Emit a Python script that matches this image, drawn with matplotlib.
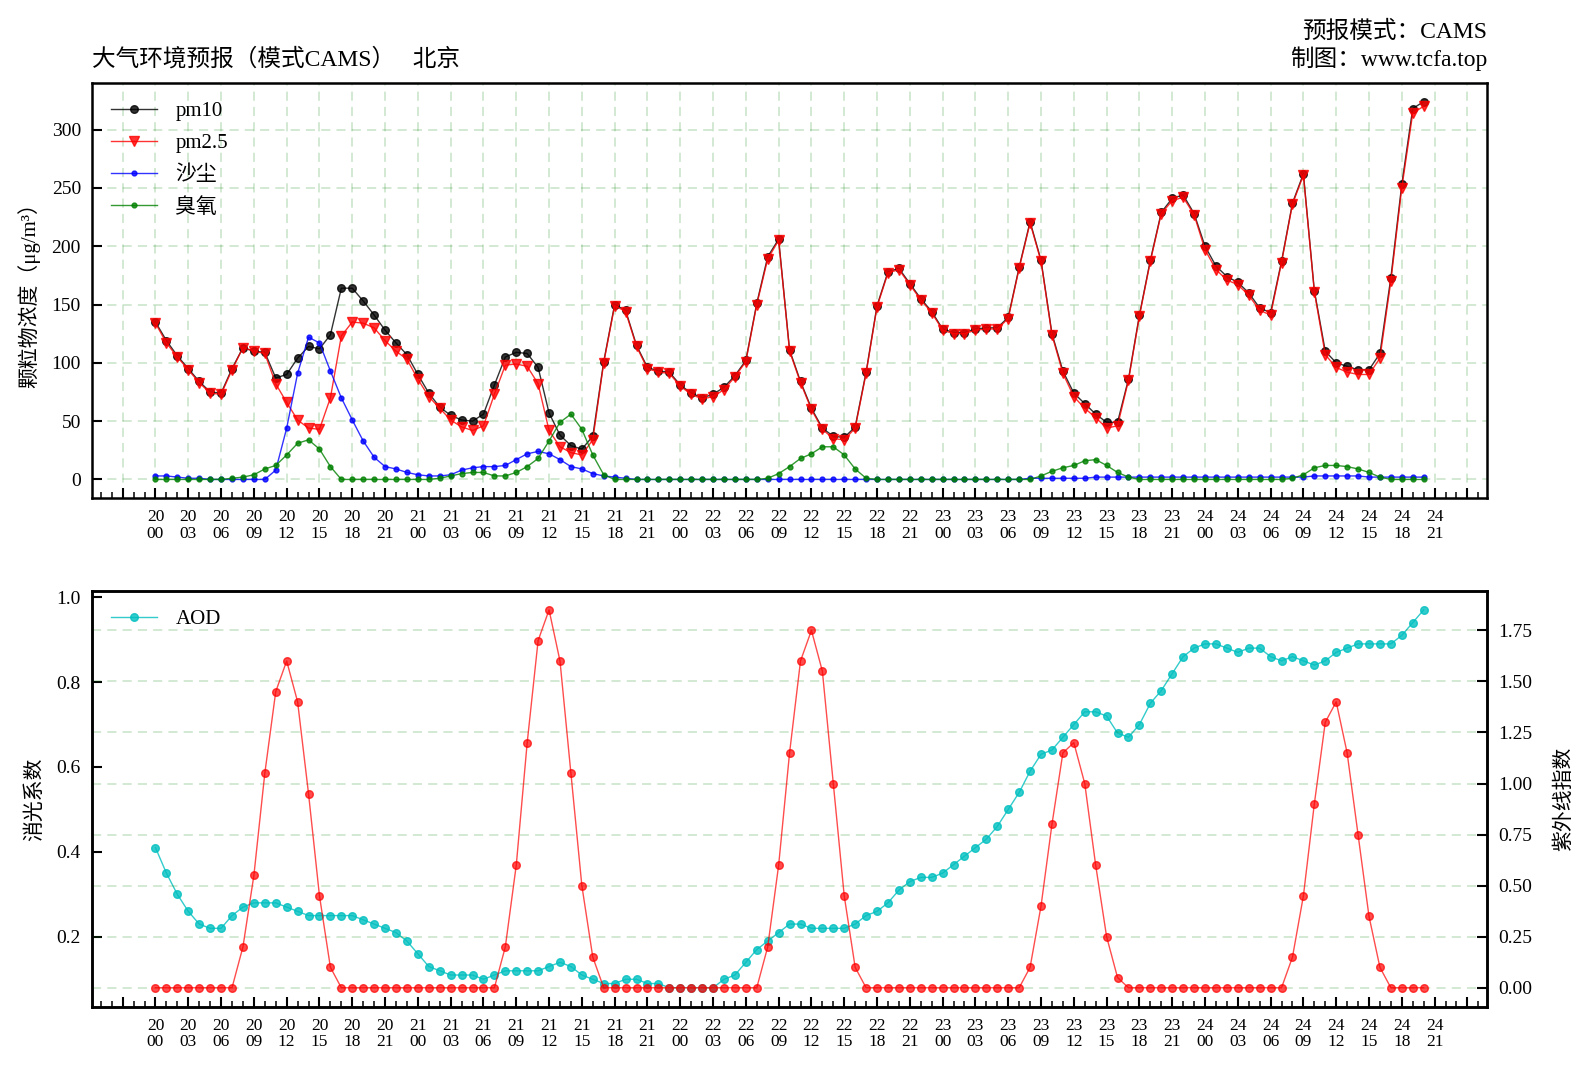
import numpy as np
import matplotlib
matplotlib.use('Agg')
import matplotlib.pyplot as plt
from matplotlib.ticker import MultipleLocator

plt.rcParams['font.family'] = ['Liberation Serif', 'Noto Sans CJK SC']

# hourly forecast, 20 00 -> 24 20
pm10 = [135, 119, 106, 95, 84, 75, 74, 95, 113, 110, 109, 87, 90, 104, 114, 112,
        124, 164, 164, 153, 141, 128, 117, 107, 90, 74, 62, 55, 51, 50, 56, 81,
        105, 109, 108, 96, 57, 38, 29, 26, 37, 101, 150, 145, 115, 96, 93, 92,
        81, 74, 70, 73, 79, 89, 102, 151, 191, 206, 111, 84, 61, 44, 37, 36,
        45, 92, 149, 178, 181, 168, 155, 144, 129, 126, 126, 129, 130, 130, 139, 182,
        221, 188, 125, 93, 74, 65, 56, 49, 49, 86, 141, 188, 229, 241, 244, 228,
        200, 183, 174, 169, 160, 147, 143, 187, 237, 262, 162, 110, 100, 97, 94, 94,
        108, 173, 253, 318, 324]
pm25 = [134, 117, 105, 94, 83, 74, 73, 94, 113, 110, 108, 82, 66, 51, 44, 43,
        70, 123, 135, 134, 130, 119, 110, 103, 86, 71, 61, 51, 45, 42, 46, 73,
        98, 99, 97, 82, 42, 28, 23, 21, 34, 100, 149, 144, 114, 95, 92, 91,
        80, 73, 69, 71, 77, 88, 101, 150, 189, 205, 110, 83, 60, 43, 35, 34,
        44, 91, 148, 177, 180, 167, 154, 143, 128, 125, 125, 128, 129, 129, 138, 181,
        220, 187, 124, 91, 71, 61, 53, 44, 46, 85, 140, 187, 228, 239, 242, 227,
        197, 180, 171, 167, 158, 145, 141, 186, 236, 261, 161, 107, 96, 92, 90, 90,
        104, 170, 250, 314, 320]
dust = [3, 3, 2, 1, 1, 0, 0, 0, 0, 0, 0, 8, 44, 91, 122, 117,
        93, 70, 51, 33, 19, 11, 9, 6, 4, 3, 3, 4, 8, 10, 11, 11,
        12, 17, 22, 24, 22, 17, 11, 9, 5, 3, 2, 1, 0, 0, 0, 0,
        0, 0, 0, 0, 0, 0, 0, 0, 0, 0, 0, 0, 0, 0, 0, 0,
        0, 0, 0, 0, 0, 0, 0, 0, 0, 0, 0, 0, 0, 0, 0, 0,
        1, 1, 1, 1, 1, 1, 2, 2, 2, 2, 2, 2, 2, 2, 2, 2,
        2, 2, 2, 2, 2, 2, 2, 2, 2, 2, 3, 3, 3, 3, 3, 2,
        2, 2, 2, 2, 2]
ozone = [0, 0, 0, 0, 0, 0, 0, 1, 2, 4, 9, 12, 21, 31, 34, 26,
         11, 0, 0, 0, 0, 0, 0, 0, 0, 0, 1, 3, 5, 6, 6, 3,
         3, 6, 11, 18, 33, 49, 56, 43, 21, 4, 0, 0, 0, 0, 0, 0,
         0, 0, 0, 0, 0, 0, 0, 0, 1, 5, 11, 18, 22, 28, 28, 21,
         9, 1, 0, 0, 0, 0, 0, 0, 0, 0, 0, 0, 0, 0, 0, 0,
         0, 3, 7, 10, 12, 16, 17, 12, 6, 2, 0, 0, 0, 0, 0, 0,
         0, 0, 0, 0, 0, 0, 0, 0, 1, 4, 10, 12, 12, 11, 9, 6,
         2, 0, 0, 0, 0]
aod = [0.41, 0.35, 0.30, 0.26, 0.23, 0.22, 0.22, 0.25, 0.27, 0.28, 0.28, 0.28, 0.27, 0.26, 0.25, 0.25,
       0.25, 0.25, 0.25, 0.24, 0.23, 0.22, 0.21, 0.19, 0.16, 0.13, 0.12, 0.11, 0.11, 0.11, 0.10, 0.11,
       0.12, 0.12, 0.12, 0.12, 0.13, 0.14, 0.13, 0.11, 0.10, 0.09, 0.09, 0.10, 0.10, 0.09, 0.09, 0.08,
       0.08, 0.08, 0.08, 0.08, 0.10, 0.11, 0.14, 0.17, 0.19, 0.21, 0.23, 0.23, 0.22, 0.22, 0.22, 0.22,
       0.23, 0.25, 0.26, 0.28, 0.31, 0.33, 0.34, 0.34, 0.35, 0.37, 0.39, 0.41, 0.43, 0.46, 0.50, 0.54,
       0.59, 0.63, 0.64, 0.67, 0.70, 0.73, 0.73, 0.72, 0.68, 0.67, 0.70, 0.75, 0.78, 0.82, 0.86, 0.88,
       0.89, 0.89, 0.88, 0.87, 0.88, 0.88, 0.86, 0.85, 0.86, 0.85, 0.84, 0.85, 0.87, 0.88, 0.89, 0.89,
       0.89, 0.89, 0.91, 0.94, 0.97]
uv = [0, 0, 0, 0, 0, 0, 0, 0, 0.20, 0.55, 1.05, 1.45, 1.60, 1.40, 0.95, 0.45,
      0.10, 0, 0, 0, 0, 0, 0, 0, 0, 0, 0, 0, 0, 0, 0, 0,
      0.20, 0.60, 1.20, 1.70, 1.85, 1.60, 1.05, 0.50, 0.15, 0, 0, 0, 0, 0, 0, 0,
      0, 0, 0, 0, 0, 0, 0, 0, 0.20, 0.60, 1.15, 1.60, 1.75, 1.55, 1.00, 0.45,
      0.10, 0, 0, 0, 0, 0, 0, 0, 0, 0, 0, 0, 0, 0, 0, 0,
      0.10, 0.40, 0.80, 1.15, 1.20, 1.00, 0.60, 0.25, 0.05, 0, 0, 0, 0, 0, 0, 0,
      0, 0, 0, 0, 0, 0, 0, 0, 0.15, 0.45, 0.90, 1.30, 1.40, 1.15, 0.75, 0.35,
      0.10, 0, 0, 0, 0]

days = ['20', '21', '22', '23', '24']
hours = ['00', '03', '06', '09', '12', '15', '18', '21']
time_labels = ['%s\n%s' % (d, h) for d in days for h in hours]

x = np.arange(len(pm10))
ticks = np.arange(-3, 3 * len(time_labels) + 3, 3)
tick_labels = [''] + time_labels + ['']
grid_kw = dict(color='g', alpha=0.22, linestyle='--', linewidth=1.1, dashes=(6, 4))


def style_axis(ax):
    for s in ax.spines.values():
        s.set_linewidth(1.8)
    ax.set_xticks(ticks, tick_labels)
    ax.xaxis.set_minor_locator(MultipleLocator(1))
    ax.tick_params(which='both', direction='in', pad=8)
    ax.tick_params(which='major', length=7, width=1.5)
    ax.tick_params(which='minor', length=4, width=1.1)
    ax.tick_params(axis='x', labelsize=12.5)
    ax.tick_params(axis='y', labelsize=14)
    for t in ax.get_xticklabels():
        t.set_linespacing(1.05)


fig, (ax, axb) = plt.subplots(2, 1, figsize=(15.93, 10.74), dpi=100)
plt.subplots_adjust(left=0.0578, right=0.9335, top=0.923, bottom=0.0627, hspace=0.223)

ax.plot(x, pm10, 'o-', color='k', alpha=0.8, lw=1, ms=5.5, label='pm10')
ax.plot(x, pm25, 'v-', color='r', alpha=0.8, lw=1, ms=6.5, label='pm2.5')
ax.plot(x, dust, 'o-', color='b', alpha=0.8, lw=1, ms=3.5, label='沙尘')
ax.plot(x, ozone, 'o-', color='g', alpha=0.8, lw=1, ms=3.5, label='臭氧')
style_axis(ax)
ax.grid(True, which='major', **grid_kw)
ax.set_ylabel('颗粒物浓度（μg/m³）', fontsize=15, labelpad=8)
ax.legend(loc='upper left', frameon=False, fontsize=15, handlelength=2.2,
          handletextpad=0.9, labelspacing=0.6)
ax.set_title('大气环境预报（模式CAMS）   北京', loc='left', fontsize=17, pad=12)
ax.set_title('预报模式：CAMS\n制图：www.tcfa.top', loc='right', fontsize=17, pad=12)

axb.plot(x, aod, 'o-', color='c', alpha=0.8, lw=1, ms=5.5, label='AOD')
style_axis(axb)
axb.set_ylabel('消光系数', fontsize=15, labelpad=8)
axb.legend(loc='upper left', frameon=False, fontsize=15, handlelength=2.2, handletextpad=0.9)

ax2 = axb.twinx()
ax2.plot(x, uv, 'o-', color='r', alpha=0.7, lw=1, ms=5.5)
for s in ax2.spines.values():
    s.set_linewidth(1.8)
ax2.tick_params(direction='in', length=7, width=1.5, pad=8, labelsize=14)
ax2.yaxis.set_major_formatter(plt.FormatStrFormatter('%.2f'))
ax2.grid(True, axis='y', **grid_kw)
ax2.set_ylabel('紫外线指数', fontsize=15, labelpad=16)

plt.savefig('out.png')
